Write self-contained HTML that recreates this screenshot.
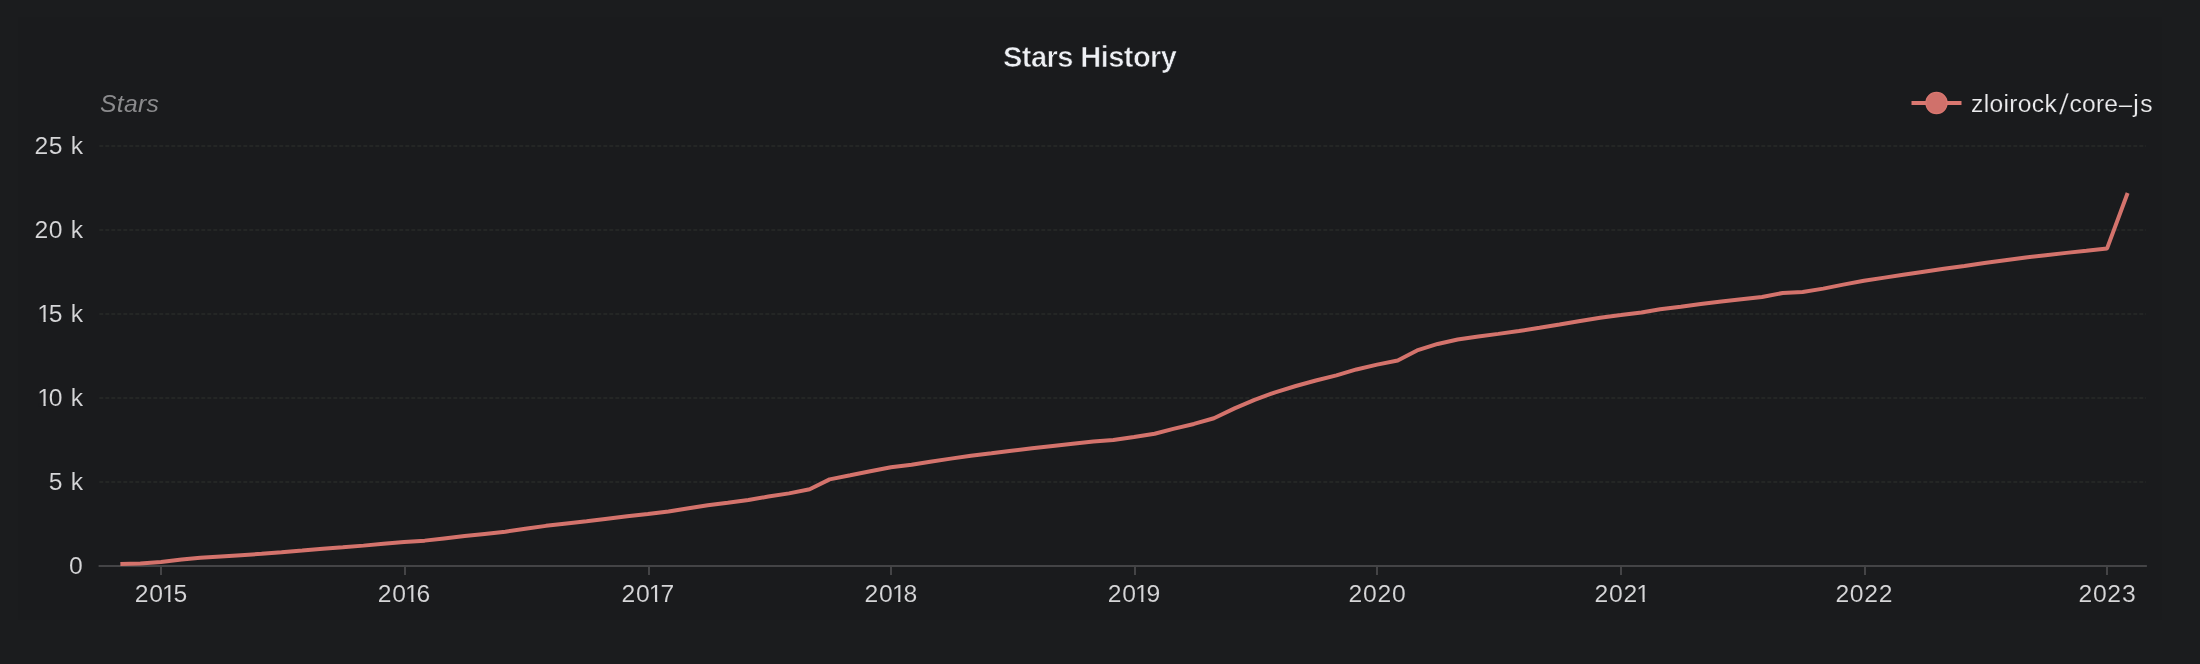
<!DOCTYPE html>
<html lang="en">
<head>
<meta charset="utf-8">
<title>Stars History</title>
<style>
html,body{margin:0;padding:0;background:#1b1c1e;}
body{width:2200px;height:664px;overflow:hidden;font-family:"Liberation Sans",sans-serif;}
svg{display:block;font-family:"Liberation Sans",sans-serif;will-change:transform;}
.lab{font-size:24.7px;fill:#d6d6d8;stroke:#1a1b1d;stroke-width:0.1px;}
.leg{font-size:24.6px;fill:#ebebed;stroke:#1a1b1d;stroke-width:0.15px;}
</style>
</head>
<body>
<svg width="2200" height="664" viewBox="0 0 2200 664">
<rect x="0" y="0" width="2200" height="664" fill="#1b1c1e"/>
<rect x="18" y="17" width="2144" height="603" fill="#1a1b1d"/>
<text x="1089.7" y="67" text-anchor="middle" font-size="29" letter-spacing="-0.55" font-weight="bold" fill="#eef0f4" stroke="#1a1b1d" stroke-width="0.65">Stars History</text>
<text x="100" y="112" font-size="24.7" letter-spacing="0.3" font-style="italic" fill="#8b8b8d">Stars</text>
<line x1="99.3" y1="482" x2="2146" y2="482" stroke="#242625" stroke-width="2" stroke-dasharray="4 2"/>
<line x1="99.3" y1="398" x2="2146" y2="398" stroke="#242625" stroke-width="2" stroke-dasharray="4 2"/>
<line x1="99.3" y1="314" x2="2146" y2="314" stroke="#242625" stroke-width="2" stroke-dasharray="4 2"/>
<line x1="99.3" y1="230" x2="2146" y2="230" stroke="#242625" stroke-width="2" stroke-dasharray="4 2"/>
<line x1="99.3" y1="146" x2="2146" y2="146" stroke="#242625" stroke-width="2" stroke-dasharray="4 2"/>
<text class="lab" y="573.9" x="69.01">0</text>
<text class="lab" y="489.9" x="48.86 66.0 70.7">5 k</text>
<text class="lab" y="405.9" x="37.27 48.86 66.0 70.7">10 k</text>
<text class="lab" y="321.9" x="37.27 48.86 66.0 70.7">15 k</text>
<text class="lab" y="237.9" x="34.41 48.86 66.0 70.7">20 k</text>
<text class="lab" y="153.9" x="34.41 48.86 66.0 70.7">25 k</text>
<rect x="98.6" y="565" width="2048.3" height="2" fill="#444446"/>
<rect x="160" y="565" width="2" height="10" fill="#444446"/>
<text class="lab" y="601.9" x="134.71 149.16 162.02 173.61">2015</text>
<rect x="404" y="565" width="2" height="10" fill="#444446"/>
<text class="lab" y="601.9" x="377.79 392.24 405.1 416.59">2016</text>
<rect x="648" y="565" width="2" height="10" fill="#444446"/>
<text class="lab" y="601.9" x="621.54 635.99 648.85 660.44">2017</text>
<rect x="890" y="565" width="2" height="10" fill="#444446"/>
<text class="lab" y="601.9" x="864.62 879.07 891.93 903.52">2018</text>
<rect x="1134" y="565" width="2" height="10" fill="#444446"/>
<text class="lab" y="601.9" x="1107.7 1122.15 1135.01 1146.6">2019</text>
<rect x="1376" y="565" width="2" height="10" fill="#444446"/>
<text class="lab" y="601.9" x="1348.56 1363.01 1377.46 1391.91">2020</text>
<rect x="1620" y="565" width="2" height="10" fill="#444446"/>
<text class="lab" y="601.9" x="1594.53 1608.98 1623.43 1636.3">2021</text>
<rect x="1864" y="565" width="2" height="10" fill="#444446"/>
<text class="lab" y="601.9" x="1835.39 1849.84 1864.29 1878.74">2022</text>
<rect x="2106" y="565" width="2" height="10" fill="#444446"/>
<text class="lab" y="601.9" x="2078.47 2092.92 2107.37 2121.88">2023</text>
<g><rect x="38.32" y="403.7" width="5.12" height="2.65" fill="#1a1b1d"/><rect x="45.71" y="403.7" width="4.82" height="2.65" fill="#1a1b1d"/><rect x="38.32" y="319.7" width="5.12" height="2.65" fill="#1a1b1d"/><rect x="45.71" y="319.7" width="4.82" height="2.65" fill="#1a1b1d"/><rect x="163.07" y="599.7" width="5.12" height="2.65" fill="#1a1b1d"/><rect x="170.46" y="599.7" width="4.82" height="2.65" fill="#1a1b1d"/><rect x="406.15" y="599.7" width="5.12" height="2.65" fill="#1a1b1d"/><rect x="413.54" y="599.7" width="4.82" height="2.65" fill="#1a1b1d"/><rect x="649.9" y="599.7" width="5.12" height="2.65" fill="#1a1b1d"/><rect x="657.29" y="599.7" width="4.82" height="2.65" fill="#1a1b1d"/><rect x="892.98" y="599.7" width="5.12" height="2.65" fill="#1a1b1d"/><rect x="900.37" y="599.7" width="4.82" height="2.65" fill="#1a1b1d"/><rect x="1136.07" y="599.7" width="5.12" height="2.65" fill="#1a1b1d"/><rect x="1143.45" y="599.7" width="4.82" height="2.65" fill="#1a1b1d"/><rect x="1637.35" y="599.7" width="5.12" height="2.65" fill="#1a1b1d"/><rect x="1644.74" y="599.7" width="4.82" height="2.65" fill="#1a1b1d"/></g>
<polyline points="120.38,564.0 140.35,563.47 161.0,561.9 181.65,559.6 200.29,557.85 220.94,556.44 240.92,555.15 261.56,553.81 281.54,552.23 302.19,550.55 322.83,548.7 342.81,547.21 363.46,545.63 383.44,543.74 404.08,542.03 424.73,540.63 444.04,538.43 464.69,536.08 484.67,533.93 505.31,531.71 525.29,528.8 545.94,525.86 566.58,523.5 586.56,521.27 607.21,518.67 627.19,516.16 647.83,513.89 668.48,511.54 687.12,508.53 707.77,505.3 727.75,502.76 748.39,500.04 768.37,496.56 789.02,493.37 809.66,489.31 829.64,479.34 850.29,475.22 870.27,471.23 890.91,467.2 911.56,464.77 930.21,461.72 950.85,458.62 970.83,455.65 991.48,453.31 1011.46,450.75 1032.1,448.35 1052.75,445.99 1072.73,443.74 1093.37,441.53 1113.35,439.92 1134.0,436.94 1154.64,433.77 1173.29,428.88 1193.93,423.94 1213.91,418.24 1234.56,408.36 1254.54,399.91 1275.18,392.29 1295.83,386.01 1315.81,380.55 1336.45,375.32 1356.43,369.43 1377.08,364.63 1397.72,360.42 1417.04,350.46 1437.68,343.96 1457.66,339.49 1478.31,336.6 1498.29,333.89 1518.93,331.04 1539.58,327.8 1559.56,324.46 1580.2,320.92 1600.18,317.68 1620.83,315.1 1641.47,312.44 1660.12,309.19 1680.77,306.75 1700.75,304.05 1721.39,301.58 1741.37,299.36 1762.02,297.07 1782.66,292.93 1802.64,292.01 1823.29,288.62 1843.27,284.61 1863.91,280.82 1884.56,277.64 1903.2,274.82 1923.85,271.68 1943.83,268.65 1964.47,266.07 1984.45,263.08 2005.1,260.24 2025.74,257.42 2045.72,255.17 2066.37,252.87 2086.35,250.78 2106.99,248.6 2127.64,193.0" fill="none" stroke="#d4736c" stroke-width="4" stroke-linejoin="bevel" stroke-linecap="butt"/>
<rect x="1911.5" y="101" width="50" height="4" fill="#da7770"/>
<circle cx="1936.5" cy="103" r="10.6" fill="#d0716b" stroke="#da7770" stroke-width="1.2"/>
<text class="leg" x="1971.0" y="111.9" letter-spacing="0.35">zloirock</text>
<text class="leg" transform="translate(2059.3,114.4) skewX(-7) scale(1,1.17)">/</text>
<text class="leg" x="2069.6" y="111.9" letter-spacing="0.2">core</text>
<text class="leg" transform="translate(2116.4,112.0) scale(2.2,0.85)">-</text>
<text class="leg" x="2133.3 2140.2" y="111.9">js</text>
</svg>
</body>
</html>
